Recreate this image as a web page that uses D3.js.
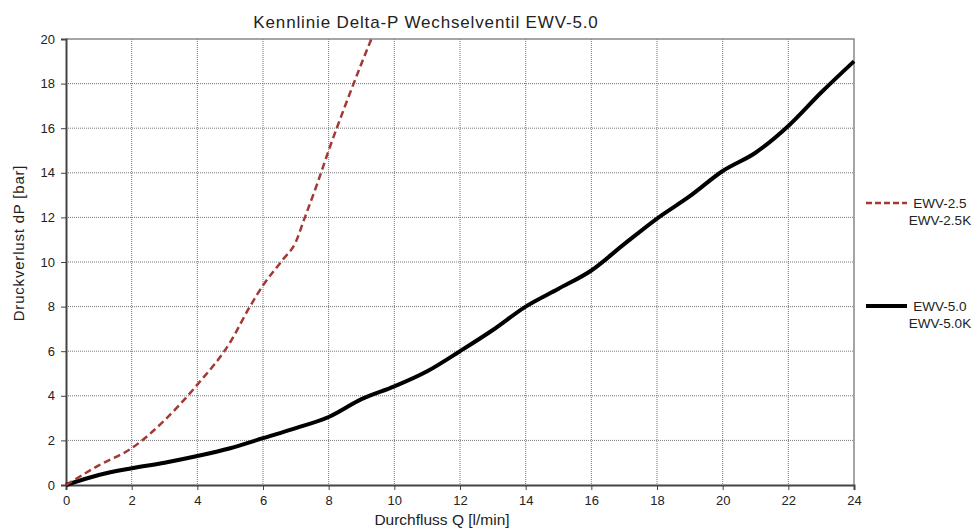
<!DOCTYPE html>
<html>
<head>
<meta charset="utf-8">
<script src="https://cdn.jsdelivr.net/npm/d3@7"></script>
<style>
  body { margin: 0; background: #fff; }
  text { font-family: "Liberation Sans", Arial, sans-serif; fill: #222; }
</style>
</head>
<body>
<div id="chart"></div>
<script>
let svg_width = 978
let svg_height = 529

// EWV-2.5 / EWV-2.5K (red dashed)
let q25 = [0, 1, 2, 3, 4, 5, 5.6, 6, 6.6, 7, 7.25, 7.65, 8, 8.5, 9, 9.3]
let dp25 = [0, 0.88, 1.65, 2.9, 4.5, 6.4, 8.0, 8.95, 10.1, 10.9, 11.9, 13.5, 15.0, 17.0, 18.9, 20]

// EWV-5.0 / EWV-5.0K (black)
let q50 = [0, 1, 2, 3, 4, 5, 6, 7, 8, 9, 10, 11, 12, 13, 14, 15, 16, 17, 18, 19, 20, 21, 22, 23, 24]
let dp50 = [0, 0.45, 0.75, 1.0, 1.3, 1.65, 2.1, 2.55, 3.05, 3.85, 4.42, 5.1, 6.0, 6.95, 8.0, 8.8, 9.62, 10.8, 11.95, 12.95, 14.08, 14.9, 16.1, 17.6, 19.0]

let xTicks = d3.range(0, 25, 2)
let yTicks = d3.range(0, 21, 2)

let margin = {left: 66, top: 39, right: 124, bottom: 44}
let w = svg_width - margin.left - margin.right
let h = svg_height - margin.top - margin.bottom

let svg = d3.select("#chart")
    .append("svg")
    .attr("width", svg_width)
    .attr("height", svg_height)

let g = svg.append("g")
    .attr("transform", `translate(${margin.left},${margin.top})`)

let x = d3.scaleLinear().domain([0, 24]).range([0, w])
let y = d3.scaleLinear().domain([0, 20]).range([h, 0])

// grid
g.selectAll(".vgrid")
    .data(xTicks.filter(d => d > 0 && d < 24))
    .enter()
    .append("line")
    .attr("x1", d => x(d)).attr("x2", d => x(d))
    .attr("y1", 0).attr("y2", h)
    .attr("stroke", "#777")
    .attr("stroke-width", 1)
    .attr("stroke-dasharray", "1,1")

g.selectAll(".hgrid")
    .data(yTicks.filter(d => d > 0 && d < 20))
    .enter()
    .append("line")
    .attr("x1", 0).attr("x2", w)
    .attr("y1", d => y(d)).attr("y2", d => y(d))
    .attr("stroke", "#777")
    .attr("stroke-width", 1)
    .attr("stroke-dasharray", "1,1")

// frame top / right
g.append("path")
    .attr("d", `M0,0H${w}V${h}`)
    .attr("fill", "none")
    .attr("stroke", "#888")
    .attr("stroke-width", 1.5)

// axes
let xAxis = g.append("g")
    .attr("transform", `translate(0,${h})`)
    .call(d3.axisBottom(x).tickValues(xTicks).tickSize(5).tickPadding(6))
let yAxis = g.append("g")
    .call(d3.axisLeft(y).tickValues(yTicks).tickSize(5).tickPadding(6))

;[xAxis, yAxis].forEach(a => {
    a.select(".domain").attr("stroke", "#444").attr("stroke-width", 2)
    a.selectAll(".tick line").attr("stroke", "#444")
    a.selectAll("text")
        .style("font-family", "'Liberation Sans', Arial, sans-serif")
        .style("font-size", "13px")
        .attr("fill", "#222")
})

// lines
let line = d3.line()
    .x(d => x(d[0]))
    .y(d => y(d[1]))
    .curve(d3.curveMonotoneX)

g.append("path")
    .datum(q50.map((q, i) => [q, dp50[i]]))
    .attr("d", line)
    .attr("fill", "none")
    .attr("stroke", "#000")
    .attr("stroke-width", 4)
    .attr("stroke-linejoin", "round")

g.append("path")
    .datum(q25.map((q, i) => [q, dp25[i]]))
    .attr("d", line)
    .attr("fill", "none")
    .attr("stroke", "#a33835")
    .attr("stroke-width", 2.5)
    .attr("stroke-dasharray", "7,4")

// titles
svg.append("text")
    .attr("x", 426).attr("y", 28)
    .style("text-anchor", "middle")
    .style("font-size", "17px")
    .style("letter-spacing", "0.85px")
    .text("Kennlinie Delta-P Wechselventil EWV-5.0")

svg.append("text")
    .attr("x", 442).attr("y", 525)
    .style("text-anchor", "middle")
    .style("font-size", "15.5px")
    .text("Durchfluss Q [l/min]")

svg.append("text")
    .attr("transform", `translate(24,243) rotate(-90)`)
    .style("text-anchor", "middle")
    .style("font-size", "15px")
    .style("letter-spacing", "0.8px")
    .text("Druckverlust dP [bar]")

// legend
let legend = [
    {names: ["EWV-2.5", "EWV-2.5K"], color: "#a33835", width: 2.5, dash: "6,3", yPos: 203},
    {names: ["EWV-5.0", "EWV-5.0K"], color: "#000", width: 4, dash: null, yPos: 306}
]
legend.forEach(l => {
    svg.append("line")
        .attr("x1", 866).attr("x2", 907)
        .attr("y1", l.yPos).attr("y2", l.yPos)
        .attr("stroke", l.color)
        .attr("stroke-width", l.width)
        .attr("stroke-dasharray", l.dash)
    l.names.forEach((n, i) => {
        svg.append("text")
            .attr("x", 940).attr("y", l.yPos + 5 + i * 16.5)
            .style("text-anchor", "middle")
            .style("font-size", "13.5px")
            .text(n)
    })
})
</script>
</body>
</html>
